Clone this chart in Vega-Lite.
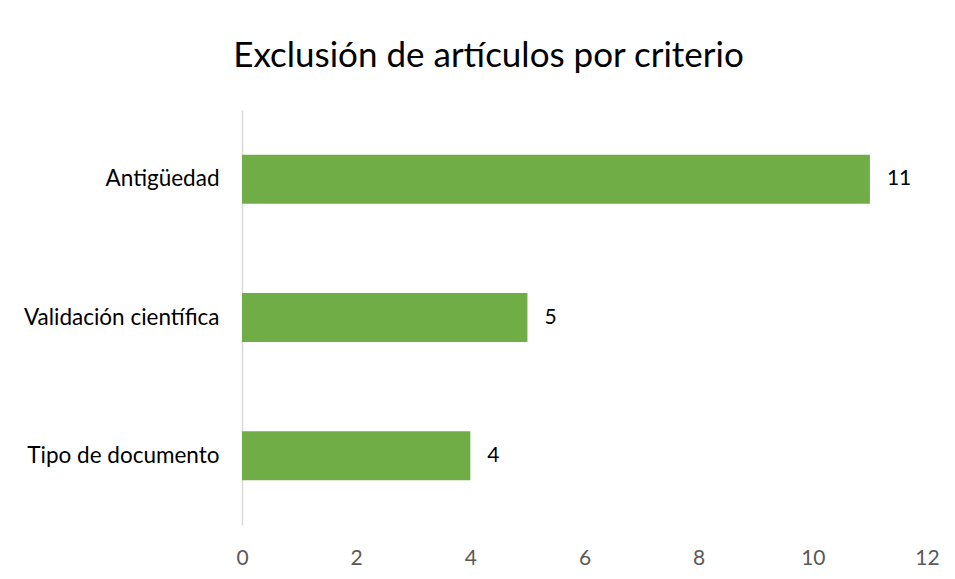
{
  "$schema": "https://vega.github.io/schema/vega-lite/v6.json",
  "autosize": "none",
  "width": 685,
  "height": 415,
  "padding": {"left": 242, "top": 110, "right": 28, "bottom": 54},
  "background": "white",
  "title": {
    "text": "Exclusión de artículos por criterio",
    "font": "Lato",
    "fontSize": 35,
    "fontWeight": "normal",
    "color": "#000000",
    "anchor": "middle",
    "frame": "group",
    "dx": -96,
    "offset": 36
  },
  "data": {
    "values": [
      {"criterio": "Antigüedad", "n": 11},
      {"criterio": "Validación científica", "n": 5},
      {"criterio": "Tipo de documento", "n": 4}
    ]
  },
  "encoding": {
    "y": {
      "field": "criterio",
      "type": "nominal",
      "sort": null,
      "scale": {"paddingInner": 0.646, "paddingOuter": 0.323},
      "axis": {
        "title": null,
        "ticks": false,
        "domainColor": "#d9d9d9",
        "domainWidth": 1.5,
        "labelFont": "Lato",
        "labelFontSize": 22.5,
        "labelColor": "#000000",
        "labelPadding": 23,
        "labelLimit": 300
      }
    },
    "x": {
      "field": "n",
      "type": "quantitative",
      "scale": {"domain": [0, 12], "nice": false},
      "axis": {
        "title": null,
        "values": [0, 2, 4, 6, 8, 10, 12],
        "grid": false,
        "ticks": false,
        "domain": false,
        "labelFont": "Lato",
        "labelFontSize": 21,
        "labelColor": "#595959",
        "labelPadding": 22,
        "labelFlush": false
      }
    }
  },
  "layer": [
    {"mark": {"type": "bar", "color": "#70AD47"}},
    {
      "mark": {"type": "text", "align": "left", "baseline": "middle", "dx": 17, "font": "Lato", "fontSize": 21, "color": "#000000"},
      "encoding": {"text": {"field": "n", "type": "quantitative"}}
    }
  ],
  "config": {"view": {"stroke": null}}
}
